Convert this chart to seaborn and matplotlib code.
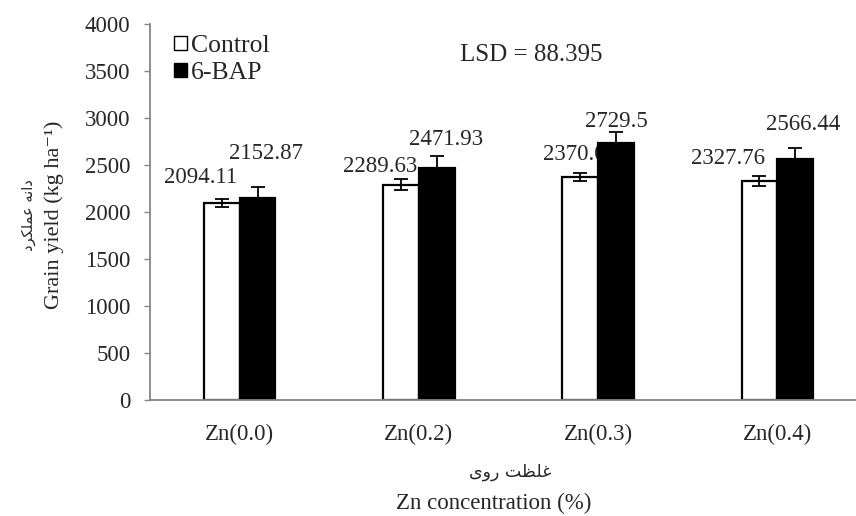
import numpy as np
import pandas as pd
import matplotlib
matplotlib.use("Agg")
import matplotlib.pyplot as plt
from matplotlib.patches import Patch
import seaborn as sns

# Datos
categorias = ['Zn(0.0)', 'Zn(0.2)', 'Zn(0.3)', 'Zn(0.4)']
control = [2094.11, 2289.63, 2370.06, 2327.76]
bap = [2152.87, 2471.93, 2729.5, 2566.44]
control_err = [40, 60, 45, 50]
bap_err = [115, 120, 120, 115]
series = ['Control', '6-BAP']
lsd = 88.395

# Desplazamiento (px) de cada etiqueta respecto a la parte superior de su barra
offsets_control = [(-21, 26), (-21, 18), (0, 23), (-31, 23)]
offsets_bap = [(8, 44), (9, 28), (0, 22), (8, 34)]

sns.set_style("ticks")
plt.rcParams['font.family'] = ['Liberation Serif', 'DejaVu Sans']

df = pd.DataFrame({
    'Tratamiento': categorias * 2,
    'Serie': [series[0]] * 4 + [series[1]] * 4,
    'Rendimiento': control + bap,
})

fig = plt.figure(figsize=(8.56, 5.16), dpi=100)
ax = fig.add_axes([150 / 856, 1 - 400 / 516, 717 / 856, 376 / 516])

sns.barplot(data=df, x='Tratamiento', y='Rendimiento', hue='Serie',
            palette={'Control': 'white', '6-BAP': 'black'},
            width=0.4, gap=0, errorbar=None, edgecolor='black',
            linewidth=1.6, legend=False, ax=ax)

gris = '#868686'
for cont, vals, errs, offs in zip(ax.containers, [control, bap],
                                  [control_err, bap_err],
                                  [offsets_control, offsets_bap]):
    xs = [p.get_x() + p.get_width() / 2 for p in cont.patches]
    ax.errorbar(xs, vals, yerr=errs, fmt='none', ecolor='black',
                elinewidth=1.3, capsize=5, capthick=1.3, zorder=3)
    for x, v, (dx, dy) in zip(xs, vals, offs):
        ax.annotate(f'{v:g}', xy=(x, v), xytext=(dx, dy),
                    textcoords='offset pixels', ha='center', va='center',
                    fontsize=16.5, zorder=0.5)

ax.set_xlim(-0.5, 3.5)
ax.set_ylim(0, 4000)
ax.set_yticks(np.arange(0, 4001, 500))
ax.set_xlabel('')
ax.set_ylabel('')
ax.tick_params(axis='y', direction='out', length=4, width=1, color=gris,
               pad=10, labelsize=16.5)
ax.tick_params(axis='x', length=0, pad=17, labelsize=16.5)
sns.despine(ax=ax)
for s in ['left', 'bottom']:
    ax.spines[s].set_color(gris)
    ax.spines[s].set_linewidth(1.3)
    ax.spines[s].set_zorder(4)

# Leyenda
handles = [Patch(facecolor='white', edgecolor='black', linewidth=1),
           Patch(facecolor='black', edgecolor='black', linewidth=1)]
fig.legend(handles, series, loc='upper left',
           bbox_to_anchor=(174 / 856, 1 - 35 / 516),
           bbox_transform=fig.transFigure, frameon=False, fontsize=18.5,
           handlelength=0.5, handleheight=0.5, handletextpad=0.15,
           labelspacing=0.2, borderpad=0, borderaxespad=0)

fig.text(531 / 856, 1 - 55 / 516, f'LSD = {lsd}', ha='center', va='center',
         fontsize=18)

# Títulos de los ejes (inglés y persa)
fig.text(54 / 856, 1 - 215 / 516, 'Grain yield (kg ha\u207b\u00b9)',
         rotation=90, ha='center', va='center', fontsize=16)
fig.text(29 / 856, 1 - 215 / 516,
         '\uFEA9\uFEAE\uFB91\uFEE0\uFEE4\uFECB \uFEEA\uFEE7\uFE8D\uFEA9',
         rotation=90, ha='center', va='center', fontsize=10.5,
         family=['DejaVu Sans', 'Noto Sans'])
fig.text(510 / 856, 1 - 472 / 516,
         '\uFBFC\uFEED\uFEAD \uFE96\uFEC8\uFEE0\uFECF',
         ha='center', va='center', fontsize=12.5,
         family=['DejaVu Sans', 'Noto Sans'])
fig.text(494 / 856, 1 - 503 / 516, 'Zn concentration (%)',
         ha='center', va='center', fontsize=16.5)

fig.savefig('out.png', dpi=100)
